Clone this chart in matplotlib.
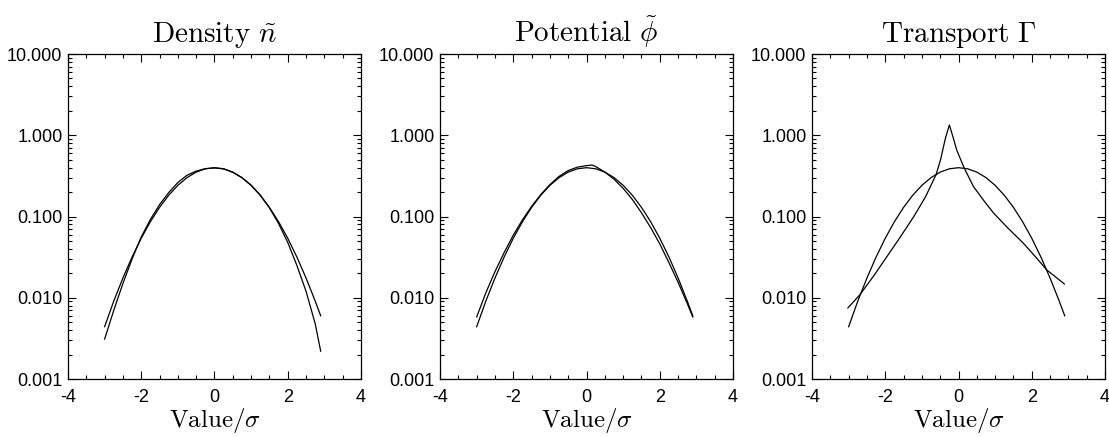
import matplotlib
matplotlib.use("Agg")
from matplotlib import pyplot as plt
from matplotlib.ticker import FixedLocator, FormatStrFormatter, LogLocator, NullFormatter

plt.rcParams['font.family'] = ['Liberation Sans', 'DejaVu Sans']
plt.rcParams['mathtext.fontset'] = 'cm'
plt.rcParams['axes.unicode_minus'] = False

# reference Gaussian, same in all three panels
gauss_x = [-3.0, -2.75, -2.5, -2.25, -2.0, -1.75, -1.5, -1.25, -1.0, -0.75, -0.5, -0.25,
           0.0, 0.25, 0.5, 0.75, 1.0, 1.25, 1.5, 1.75, 2.0, 2.25, 2.5, 2.75, 2.9]
gauss_y = [0.0044, 0.0091, 0.0175, 0.0317, 0.054, 0.0863, 0.1295, 0.1826, 0.242, 0.3011,
           0.3521, 0.3867, 0.3989, 0.3867, 0.3521, 0.3011, 0.242, 0.1826, 0.1295, 0.0863,
           0.054, 0.0317, 0.0175, 0.0091, 0.0060]

density_x = [-3.0, -2.75, -2.5, -2.25, -2.0, -1.75, -1.5, -1.25, -1.0, -0.75, -0.5, -0.25,
             0.0, 0.25, 0.5, 0.75, 1.0, 1.25, 1.5, 1.75, 2.0, 2.25, 2.5, 2.75, 2.9]
density_y = [0.0031, 0.0070, 0.0150, 0.0300, 0.056, 0.092, 0.140, 0.197, 0.262, 0.322,
             0.362, 0.388, 0.396, 0.386, 0.350, 0.300, 0.243, 0.183, 0.128, 0.082,
             0.048, 0.025, 0.0120, 0.0048, 0.0022]

potential_x = [-3.0, -2.75, -2.5, -2.25, -2.0, -1.75, -1.5, -1.25, -1.0, -0.75, -0.5, -0.25,
               0.0, 0.15, 0.25, 0.5, 0.75, 1.0, 1.25, 1.5, 1.75, 2.0, 2.25, 2.5, 2.75, 2.9]
potential_y = [0.0058, 0.0115, 0.021, 0.036, 0.059, 0.091, 0.133, 0.186, 0.247, 0.312,
               0.368, 0.405, 0.423, 0.430, 0.412, 0.352, 0.288, 0.222, 0.162, 0.111,
               0.073, 0.046, 0.027, 0.0155, 0.0085, 0.0058]

transport_x = [-3.02, -2.7, -2.3, -2.0, -1.6, -1.22, -0.9, -0.61, -0.49, -0.36, -0.25,
               -0.15, -0.05, 0.15, 0.41, 0.7, 0.96, 1.35, 1.77, 2.1, 2.41, 2.89]
transport_y = [0.0075, 0.0108, 0.019, 0.030, 0.055, 0.100, 0.175, 0.33, 0.50, 0.91, 1.34,
               0.95, 0.66, 0.40, 0.233, 0.155, 0.110, 0.072, 0.047, 0.032, 0.022, 0.0148]

titles = [r'$\mathrm{Density}\ \tilde{n}$', r'$\mathrm{Potential}\ \tilde{\phi}$',
          r'$\mathrm{Transport}\ \Gamma$']
series = [(density_x, density_y), (potential_x, potential_y), (transport_x, transport_y)]
y_ticks = [0.001, 0.01, 0.1, 1.0, 10.0]

fig = plt.figure(figsize=(11.09, 4.37), dpi=100)
lefts = [0.0613, 0.3968, 0.7322]

for left, title, (dx, dy) in zip(lefts, titles, series):
    ax = fig.add_axes([left, 0.1327, 0.2642, 0.7437])
    ax.plot(gauss_x, gauss_y, color='black', lw=0.9)
    ax.plot(dx, dy, color='black', lw=0.9)
    ax.set_yscale('log')
    ax.set_xlim(-4, 4)
    ax.set_ylim(0.001, 10)
    ax.set_xticks([-4, -2, 0, 2, 4])
    ax.xaxis.set_minor_locator(FixedLocator([v / 2 for v in range(-8, 9)]))
    ax.yaxis.set_major_locator(FixedLocator(y_ticks))
    ax.yaxis.set_major_formatter(FormatStrFormatter('%.3f'))
    ax.yaxis.set_minor_locator(LogLocator(base=10, subs=range(2, 10)))
    ax.yaxis.set_minor_formatter(NullFormatter())
    ax.tick_params(which='both', direction='in', top=True, right=True, width=0.8,
                   labelsize=13, colors='black')
    ax.tick_params(which='major', length=6)
    ax.tick_params(which='minor', length=3)
    ax.tick_params(axis='x', which='major', pad=7)
    ax.tick_params(axis='y', which='major', pad=4)
    for sp in ax.spines.values():
        sp.set_linewidth(0.9)
    ax.set_title(title, fontsize=21, pad=9)
    ax.set_xlabel(r'$\mathrm{Value}/\sigma$', fontsize=18, labelpad=0)

fig.savefig('out.png', dpi=100)
